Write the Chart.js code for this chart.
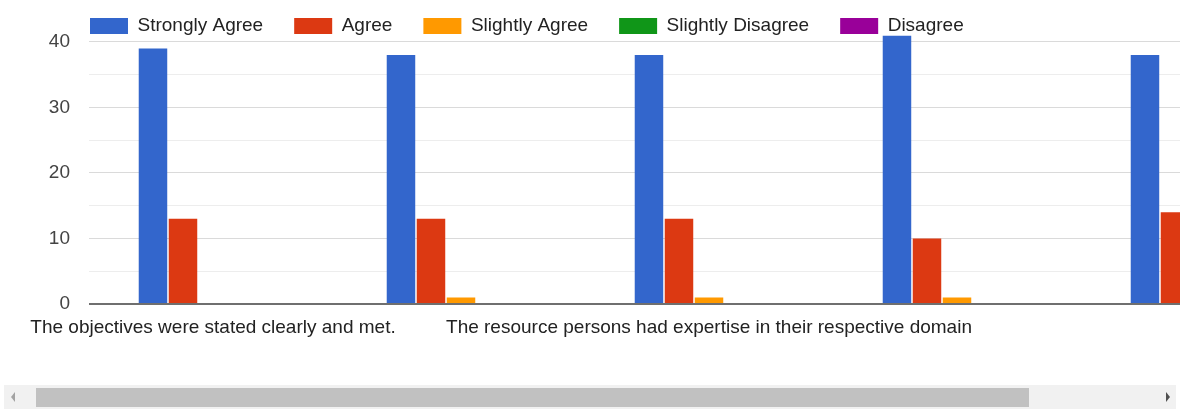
<!DOCTYPE html>
<html>
<head>
<meta charset="utf-8">
<script src="https://cdn.jsdelivr.net/npm/chart.js@4/dist/chart.umd.min.js"></script>
<style>
  body { margin: 0; background: #fff; font-family: "Liberation Sans", Arial, sans-serif; }
  #view { position: absolute; left: 0; top: 0; width: 1180px; height: 345px; overflow: hidden; }
  #inner { position: relative; width: 1345px; height: 345px; }
  #track { position: absolute; left: 4px; top: 385px; width: 1172px; height: 24px; background: #f1f1f1; }
  #thumb { position: absolute; left: 36px; top: 388px; width: 993px; height: 19px; background: #c1c1c1; }
  #arrL { position: absolute; left: 11px; top: 392px; width: 0; height: 0;
          border-top: 5px solid transparent; border-bottom: 5px solid transparent; border-right: 4px solid #a3a3a3; }
  #arrR { position: absolute; left: 1166px; top: 392px; width: 0; height: 0;
          border-top: 5px solid transparent; border-bottom: 5px solid transparent; border-left: 4px solid #505050; }
</style>
</head>
<body>
<div id="view"><div id="inner"><canvas id="chart"></canvas></div></div>
<div id="track"></div><div id="thumb"></div><div id="arrL"></div><div id="arrR"></div>
<script>
// questions (only 1st and 3rd labels fit on screen in the original)
const questions = [
    'The objectives were stated clearly and met.',
    'The content was relevant and useful.',
    'The resource persons had expertise in their respective domain',
    'The sessions were interactive and engaging.',
    'Overall the programme was well organised.'
];
const seriesNames = ['Strongly Agree', 'Agree', 'Slightly Agree', 'Slightly Disagree', 'Disagree'];
const seriesColors = ['#3366cc', '#dc3912', '#ff9900', '#109618', '#990099'];

const stronglyAgree = [39, 38, 38, 41, 38];
const agree = [13, 13, 13, 10, 14];
const slightlyAgree = [0, 1, 1, 1, 0];
const slightlyDisagree = [0, 0, 0, 0, 0];
const disagree = [0, 0, 0, 0, 0];

const yTicks = [0, 10, 20, 30, 40];

const values = [stronglyAgree, agree, slightlyAgree, slightlyDisagree, disagree];

const font = { family: '"Liberation Sans", Arial, sans-serif', size: 19 };

// legend sits over the plot, starting at the plot's left edge
const legendShift = {
    id: 'legendShift',
    afterLayout: (chart) => {
        const lg = chart.legend;
        const dx = chart.chartArea.left - lg.left - 30;
        lg.left += dx;
        lg.right += dx;
        lg.top += 1;
        lg.bottom += 1;
    }
};

new Chart(document.getElementById('chart'), {
    type: 'bar',
    data: {
        labels: questions,
        datasets: values.map((v, i) => ({
            label: seriesNames[i],
            data: v,
            backgroundColor: seriesColors[i],
            borderWidth: 0,
            categoryPercentage: 0.605,
            barPercentage: 0.95
        }))
    },
    options: {
        responsive: true,
        maintainAspectRatio: false,
        animation: false,
        layout: { padding: { top: -15.5, left: 0, right: 16, bottom: 0 } },
        plugins: {
            tooltip: { enabled: false },
            legend: {
                position: 'top',
                align: 'start',
                maxHeight: 50.9,
                labels: {
                    boxWidth: 38,
                    boxHeight: 16,
                    padding: 31,
                    color: '#222',
                    font: font
                }
            }
        },
        scales: {
            x: {
                border: { display: false },
                grid: { display: false, drawTicks: false },
                ticks: {
                    autoSkip: false,
                    maxRotation: 0,
                    minRotation: 0,
                    padding: 12,
                    color: '#222',
                    font: font,
                    callback: function (v, i) {
                        return (i === 0 || i === 2) ? this.getLabelForValue(v) : '';
                    }
                },
                afterFit: (s) => { s.height = 41; }
            },
            y: {
                min: 0,
                max: 41,
                border: { display: false },
                grid: {
                    drawTicks: false,
                    color: (c) => {
                        const v = c.tick.value;
                        if (v === 0) return '#6f6f6f';
                        if (yTicks.includes(v)) return '#dadada';
                        if (v % 5 === 0) return '#ededed';
                        return 'rgba(0,0,0,0)';
                    },
                    lineWidth: (c) => c.tick.value === 0 ? 2 : 1
                },
                ticks: {
                    stepSize: 5,
                    includeBounds: false,
                    padding: 19,
                    color: '#444',
                    font: font,
                    callback: (v) => yTicks.includes(v) ? v : ''
                },
                afterFit: (s) => { s.width = 89; }
            }
        }
    },
    plugins: [legendShift]
});
</script>
</body>
</html>
